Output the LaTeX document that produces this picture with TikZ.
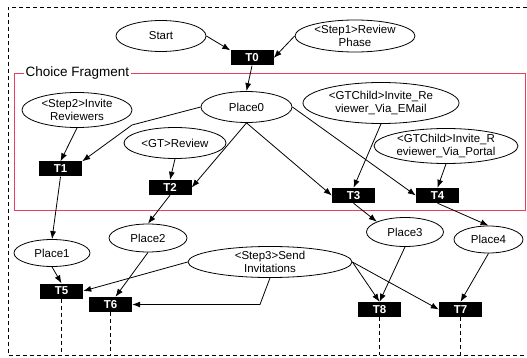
\documentclass[tikz,border=0pt]{standalone}
\usepackage{fontspec}
\setmainfont{Liberation Sans}
\usetikzlibrary{shapes.geometric,arrows.meta}
\definecolor{frag}{RGB}{232,64,90}
\begin{document}
\begin{tikzpicture}[x=1pt,y=-1pt,
  pl/.style={ellipse,draw,line width=0.8pt,inner sep=0pt,align=center,font=\fontsize{11.5}{13.5}\selectfont},
  tr/.style={fill=black,text=white,font=\bfseries\fontsize{11.5}{12}\selectfont,minimum width=43pt,minimum height=15pt,inner sep=0pt},
  arr/.style={-{Latex[length=8pt,width=6pt]},line width=0.8pt},
  lane/.style={line width=0.8pt,dash pattern=on 4pt off 3pt}]
\useasboundingbox (0,0) rectangle (527,358);
% frames
\draw[lane] (527,7) -- (8,7) -- (8,355) -- (527,355);
\coordinate (bot) at (0,355);
\draw[frag,line width=0.8pt] (14,73) rectangle (525,210);
\node[fill=white,inner sep=1.5pt,anchor=west,font=\fontsize{13.5}{14}\selectfont] (cf) at (24,73) {Choice Fragment};
% places / labels
\node[pl,minimum width=90pt,minimum height=31pt] (Start) at (161,36) {Start};
\node[pl,minimum width=120pt,minimum height=32pt] (Step1) at (355,36) {<Step1>Review\\Phase};
\node[pl,minimum width=91pt,minimum height=31pt] (Place0) at (246.5,107) {Place0};
\node[pl,minimum width=110pt,minimum height=35pt] (Step2) at (77,110) {<Step2>Invite\\Reviewers};
\node[pl,minimum width=102pt,minimum height=31pt] (GT) at (175,143) {<GT>Review};
\node[pl,minimum width=156pt,minimum height=41pt] (Email) at (381,103) {<GTChild>Invite\_Re\\viewer\_Via\_EMail};
\node[pl,minimum width=144pt,minimum height=35pt] (Portal) at (446,146) {<GTChild>Invite\_R\\eviewer\_Via\_Portal};
\node[pl,minimum width=76pt,minimum height=27pt] (Place1) at (52,253) {Place1};
\node[pl,minimum width=78pt,minimum height=28pt] (Place2) at (148,238) {Place2};
\node[pl,minimum width=164pt,minimum height=31pt] (Step3) at (270,262) {<Step3>Send\\Invitations};
\node[pl,minimum width=77pt,minimum height=29pt] (Place3) at (405,232) {Place3};
\node[pl,minimum width=69pt,minimum height=27pt] (Place4) at (488.5,239.5) {Place4};
% transitions
\node[tr] (T0) at (252,58) {T0};
\node[tr] (T1) at (60.5,169) {T1};
\node[tr] (T2) at (170,187.5) {T2};
\node[tr] (T3) at (353.5,195.5) {T3};
\node[tr] (T4) at (437.5,195.5) {T4};
\node[tr] (T5) at (61.5,291) {T5};
\node[tr] (T6) at (110.5,304.5) {T6};
\node[tr] (T8) at (379.5,309.5) {T8};
\node[tr] (T7) at (460.5,309.5) {T7};
% bends
\coordinate (b1) at (132,125);
\coordinate (b2) at (260,304.5);
% arcs
\draw[arr] (Start.east) -- (T0.north west);
\draw[arr] (Step1.west) -- (T0.east);
\draw[arr] (T0.south) -- (Place0.north);
\draw[arr] (Place0.west) -- (b1) -- (T1.north east);
\draw[arr] (Step2.south) -- (T1.north);
\draw[arr] (GT.south) -- (T2.north);
\draw[arr] (Place0.south) -- (T2.east);
\draw[arr] (Place0.south) -- (T3.west);
\draw[arr] (Place0.east) -- (T4.west);
\draw[arr] (Email.south) -- (T3.north);
\draw[arr] (Portal.south) -- (T4.north);
\draw[arr] (T1.south) -- (Place1.north);
\draw[arr] (T2.south) -- (Place2.north);
\draw[arr] (T3.south) -- (Place3.160);
\draw[arr] (T4.south) -- (Place4.north);
\draw[arr] (Place1.south) -- (T5.north);
\draw[arr] (Place2.south) -- ([xshift=5pt]T6.north);
\draw[arr] (Step3.west) -- (T5.east);
\draw[arr] (Step3.south) -- (b2) -- (T6.east);
\draw[arr] (Step3.east) -- (T8.north);
\draw[arr] (Step3.east) -- (T7.west);
\draw[arr] (Place3.south) -- (T8.north);
\draw[arr] (Place4.south) -- (T7.north);
% lanes
\foreach \t in {T5,T6,T8,T7}
  \draw[lane] (\t.south) -- (\t.south |- bot);
\end{tikzpicture}
\end{document}
